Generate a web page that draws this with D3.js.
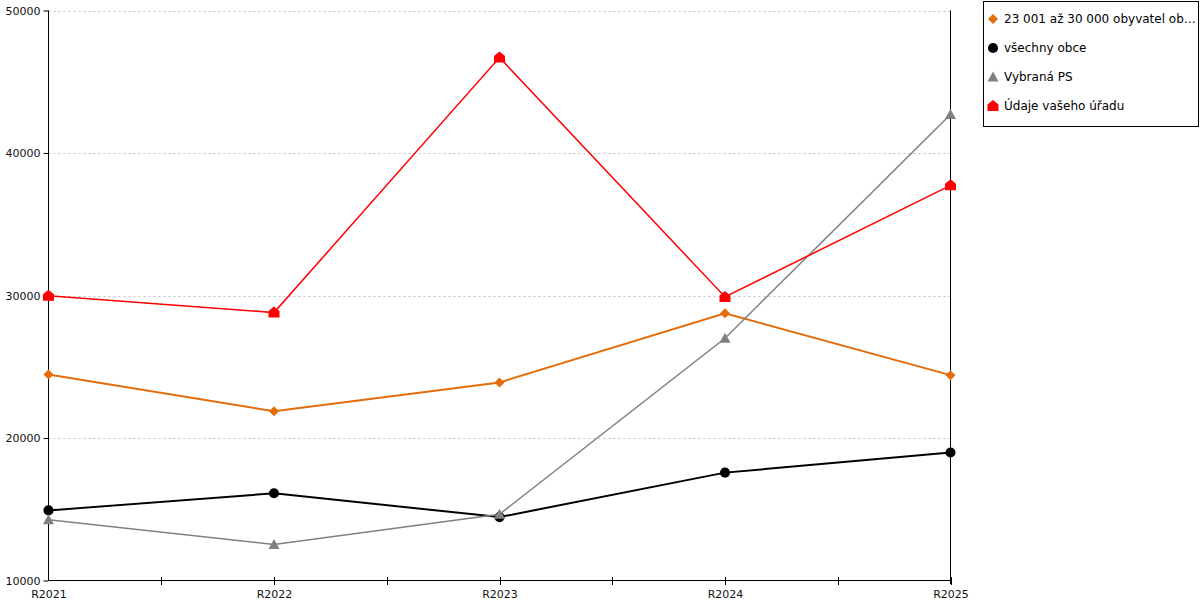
<!DOCTYPE html>
<html><head><meta charset="utf-8">
<script src="https://cdn.jsdelivr.net/npm/d3@7"></script>
<style>
body{margin:0;background:#fff;}
text{font-family:"DejaVu Sans",Verdana,sans-serif;}
</style></head>
<body><svg id="c" width="1200" height="600"></svg>
<script>
const categories = ["R2021","R2022","R2023","R2024","R2025"];
const seriesNames = ["23 001 až 30 000 obyvatel ob…","všechny obce","Vybraná PS","Údaje vašeho úřadu"];
const orangeValues = [24450, 21880, 23900, 28750, 24410];
const blackValues  = [14920, 16120, 14450, 17570, 18980];
const grayValues   = [14270, 12530, 14650, 27000, 42700];
const redValues    = [29980, 28800, 46700, 29900, 37730];
const yTicks = [10000, 20000, 30000, 40000, 50000];

const series = [
  {name: seriesNames[0], values: orangeValues, color: "#e46c0a", width: 2, marker: "diamond"},
  {name: seriesNames[1], values: blackValues, color: "#000000", width: 2, marker: "circle"},
  {name: seriesNames[2], values: grayValues, color: "#808080", width: 1.5, marker: "triangle"},
  {name: seriesNames[3], values: redValues, color: "#ff0000", width: 1.5, marker: "house"}
];

const svg = d3.select("#c");
const x = d3.scalePoint().domain(categories).range([48.5, 950.5]);
const y = d3.scaleLinear().domain([10000, 50000]).range([580.5, 10.5]);

// gridlines
svg.append("g").selectAll("line").data(yTicks.filter(t => t > 10000)).join("line")
  .attr("x1", 48.5).attr("x2", 950.5)
  .attr("y1", d => Math.round(y(d)) + 0.5).attr("y2", d => Math.round(y(d)) + 0.5)
  .attr("stroke", "#c0c0c0").attr("stroke-dasharray", "2,3").attr("stroke-width", 1);

// y axis
const yAxis = svg.append("g").attr("transform", "translate(48.5,0)")
  .call(d3.axisLeft(y).tickValues(yTicks).tickFormat(d3.format("d")).tickSize(5).tickPadding(3));
yAxis.select(".domain").attr("stroke", "#000").attr("d", "M0,10.5V580.5");
yAxis.selectAll("text").attr("font-size", 11).attr("fill", "#111").attr("font-family", "DejaVu Sans");

// x axis with ticks at categories and midpoints
const xAxis = svg.append("g").attr("transform", "translate(0,580.5)")
  .call(d3.axisBottom(x).tickSize(0).tickPadding(10));
xAxis.select(".domain").attr("stroke", "#000").attr("d", "M48.5,0H950.5");
xAxis.selectAll("text").attr("font-size", 11).attr("fill", "#111").attr("font-family", "DejaVu Sans");
const tickPos = [];
for (let i = 0; i < categories.length; i++) {
  tickPos.push(x(categories[i]));
  if (i < categories.length - 1) tickPos.push((x(categories[i]) + x(categories[i+1])) / 2);
}
xAxis.append("g").selectAll("line").data(tickPos.filter(p => p > 50)).join("line")
  .attr("x1", d => Math.round(d) + 0.5).attr("x2", d => Math.round(d) + 0.5)
  .attr("y1", -3.5).attr("y2", 4.5).attr("stroke", "#000");

// right axis line
svg.append("line").attr("x1", 950.5).attr("x2", 950.5).attr("y1", 10.5).attr("y2", 584)
  .attr("stroke", "#000");

function markerPath(type) {
  if (type === "diamond") return "M0,-5L5,0L0,5L-5,0Z";
  if (type === "circle") return d3.symbol(d3.symbolCircle, 80)();
  if (type === "triangle") return "M0,-5.5L5.5,4.5L-5.5,4.5Z";
  if (type === "house") return "M0,-6L5.5,-1.5L5.5,5L-5.5,5L-5.5,-1.5Z";
}

const line = d3.line().x((d, i) => x(categories[i])).y(d => y(d));
series.forEach(s => {
  svg.append("path").datum(s.values).attr("d", line)
    .attr("fill", "none").attr("stroke", s.color).attr("stroke-width", s.width);
  svg.append("g").selectAll("path").data(s.values).join("path")
    .attr("transform", (d, i) => `translate(${x(categories[i])},${y(d)})`)
    .attr("d", markerPath(s.marker)).attr("fill", s.color);
});

// legend
const lg = svg.append("g");
lg.append("rect").attr("x", 983.5).attr("y", 1.5).attr("width", 215).attr("height", 125)
  .attr("fill", "#fff").attr("stroke", "#000");
series.forEach((s, i) => {
  const cy = 19 + i * 29;
  lg.append("path").attr("transform", `translate(993,${cy})`)
    .attr("d", markerPath(s.marker)).attr("fill", s.color);
  lg.append("text").attr("x", 1004).attr("y", cy).attr("dy", "0.35em")
    .attr("font-size", 12).attr("fill", "#000").text(s.name);
});
</script></body></html>
